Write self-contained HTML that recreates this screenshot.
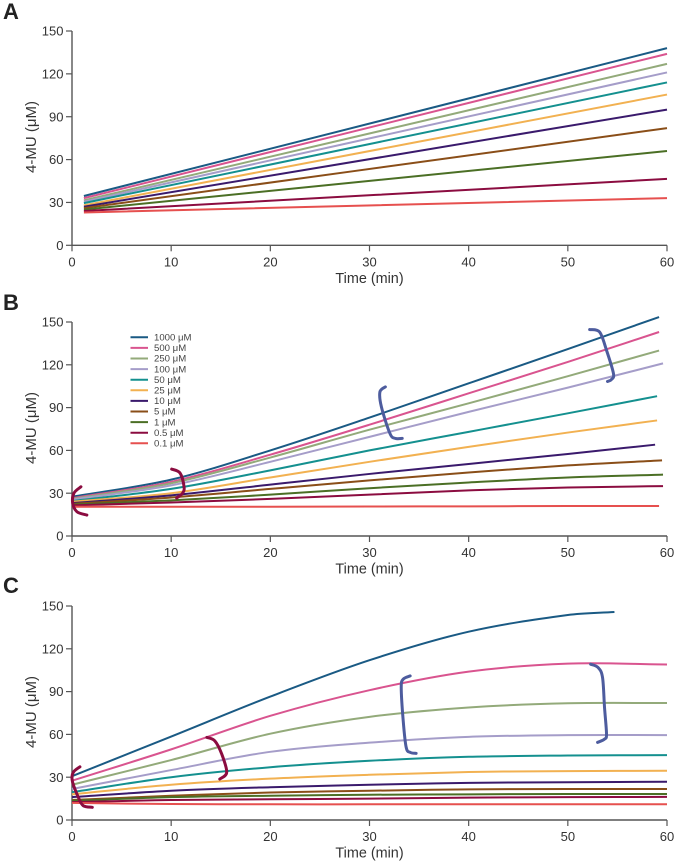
<!DOCTYPE html>
<html>
<head>
<meta charset="utf-8">
<title>4-MU time course</title>
<style>
html,body{margin:0;padding:0;background:#fff;}
svg{display:block;font-family:"Liberation Sans",sans-serif;}
</style>
</head>
<body>
<svg id="figure" width="677" height="864" viewBox="0 0 677 864" xmlns="http://www.w3.org/2000/svg"></svg>
<script>
// Shared categories and ticks
const seriesNames = ['1000 μM','500 μM','250 μM','100 μM','50 μM','25 μM','10 μM','5 μM','1 μM','0.5 μM','0.1 μM'];
const seriesColors = ['#1a5a84','#d9548f','#93aa7a','#a59dc9','#14908f','#f2b151','#3a1a6c','#8a4e18','#4b6f25','#8b0c40','#e6504f'];
const xTicks = [0,10,20,30,40,50,60];
const yTicks = [0,30,60,90,120,150];

// Panel A (straight progress curves)
const aTimes = [1.2,60];
const aStart = [34.5,33,31.5,30.5,29.5,28,27,26,25,24,23];
const aEnd = [138,134,127,121,114,105.5,95,82,66,46.5,33];

// Panel B
const bTimes = [0,10,20,30,40,50];
const bEnds = [59.2,59.2,59.2,59.6,59,59,58.8,59.5,59.6,59.6,59.2];
const b1000 = [27.5,39.5,60,83,107,131,153.5];
const b500 = [26.5,38,57,78,100,122,143];
const b250 = [26,37,55,74.5,93,112,130];
const b100 = [25.5,35.5,52,69.5,87,104,121];
const b50 = [24.5,33,46,60,73,86,98];
const b25 = [24,30,41,52,62.5,72.5,81];
const b10 = [23,28.5,36,43.5,50.5,57.5,64];
const b5 = [22.5,27,33,39,44.5,49.5,53];
const b1 = [22,25,29,33.5,37.5,41,43];
const b05 = [21.5,23.5,26,29,32,34,35];
const b01 = [20.5,20.5,20.5,20.7,20.8,21,21];

// Panel C
const cTimes = [0,10,20,30,40,50];
const cEnds = [54.7,60,60,60,60,60,60,60,60,60,60];
const c1000 = [30.7,58.5,86.5,112,132,143.7,145.8];
const c500 = [27.5,49.5,73,91,104,109.6,109];
const c250 = [24.7,42,60.5,72.3,78.9,81.8,82];
const c100 = [21.7,35,47.8,54.2,58.3,59.5,59.5];
const c50 = [19.5,30,37,41.5,44.3,45.2,45.5];
const c25 = [18,24.7,29,31.7,33.6,34.3,34.5];
const c10 = [16,20.5,23,24.7,26,26.5,26.8];
const c5 = [14,17,19.3,20.5,21.5,21.7,21.7];
const c1 = [13.5,16,17,17.7,18,18.2,18.2];
const c05 = [12.5,14,14.5,15,15.7,16,16.2];
const c01 = [12,11.2,11,11,11,11,11];

// Bracket annotations, [time, 4-MU]
const bBrackets = [
  {color:'#8b0c40',pts:[[.9,34.5],[.2,30.1],[.07,23.1],[.5,17],[1.5,14.7]]},
  {color:'#8b0c40',pts:[[10.05,46.9],[10.9,44.1],[11.3,34.5],[11.16,30.1],[10.55,26.6]]},
  {color:'#4d5c9e',pts:[[31.6,104.5],[31.05,101],[31.2,90.5],[32.06,71.9],[32.6,68.4],[33.3,68.4]]},
  {color:'#4d5c9e',pts:[[52.2,144.7],[53.2,143],[53.9,130.2],[54.6,113.9],[54.4,109.7],[54,108.3]]}
];
const cBrackets = [
  {color:'#8b0c40',pts:[[.8,37.3],[.13,33.4],[.03,27.5],[.64,15.9],[1.14,10],[2.05,8.9]]},
  {color:'#8b0c40',pts:[[13.6,57.9],[14.4,55.5],[15.1,46.2],[15.6,33.4],[14.9,28.7]]},
  {color:'#4d5c9e',pts:[[34.1,101],[33.4,98.7],[33.2,92.9],[33.4,69.5],[33.7,50.9],[34.1,47.4],[34.7,46.7]]},
  {color:'#4d5c9e',pts:[[52.3,109.2],[53.05,106.9],[53.5,99.9],[53.7,78.9],[53.9,60.2],[53.7,56.7],[53,54.4]]}
];

const svg = document.getElementById('figure');
const NS = 'http://www.w3.org/2000/svg';

function make(tag, attrs, parent){
  const el = document.createElementNS(NS, tag);
  for (const k in attrs) el.setAttribute(k, attrs[k]);
  parent.appendChild(el);
  return el;
}
function smooth(points){
  const n = points.length;
  const m = points.map((p,i)=>{
    const a = points[Math.max(i-1,0)], b = points[Math.min(i+1,n-1)];
    return [(b[0]-a[0])/2,(b[1]-a[1])/2];
  });
  let d = 'M'+points[0][0].toFixed(2)+' '+points[0][1].toFixed(2);
  for (let i=0;i<n-1;i++){
    const p=points[i], q=points[i+1];
    d += ' C'+(p[0]+m[i][0]/3).toFixed(2)+' '+(p[1]+m[i][1]/3).toFixed(2)+' '+
         (q[0]-m[i+1][0]/3).toFixed(2)+' '+(q[1]-m[i+1][1]/3).toFixed(2)+' '+
         q[0].toFixed(2)+' '+q[1].toFixed(2);
  }
  return d;
}
function curve(xs, ys, scaleX, scaleY){
  const n = xs.length;
  const d = [];
  for (let i=0;i<n;i++){
    const t = xs[i], v = ys[i];
    const slopeWindow = Math.abs(xs[Math.min(i+1,n-1)]-xs[Math.max(i-1,0)]);
    const s = (ys[Math.min(i+1,n-1)]-ys[Math.max(i-1,0)])/slopeWindow;
    d.push({t,v,s});
  }
  let out = 'M'+scaleX(d[0].t).toFixed(2)+' '+scaleY(d[0].v).toFixed(2);
  for (let i=0;i<n-1;i++){
    const a=d[i], b=d[i+1], h=(b.t-a.t)/3;
    out += ' C'+scaleX(a.t+h).toFixed(2)+' '+scaleY(a.v+a.s*h).toFixed(2)+' '+
           scaleX(b.t-h).toFixed(2)+' '+scaleY(b.v-b.s*h).toFixed(2)+' '+
           scaleX(b.t).toFixed(2)+' '+scaleY(b.v).toFixed(2);
  }
  return out;
}

function drawPanel(letter, letterY, yTop, yBottom){
  const key = letter.toLowerCase();
  const g = make('g', {}, svg);
  
  

  const scaleX = t => 72 + t*(595/60);
  const scaleY = v => yBottom - v*((yBottom-yTop)/150);

  const label = make('text', {x:3,y:letterY,'font-size':22,'font-weight':'bold',fill:'#222'}, g);
  label.textContent = letter;
  
  

  const yAxis = make('line', {x1:72,x2:72,y1:yTop,y2:yBottom,stroke:'#555','stroke-width':1.4}, g);
  
  

  const xAxis = make('line', {x1:71.4,x2:667,y1:yBottom,y2:yBottom,stroke:'#555','stroke-width':1.4}, g);
  
  

  yTicks.forEach(v=>{
    const tick = make('line', {x1:66,x2:72,y1:scaleY(v),y2:scaleY(v),stroke:'#555','stroke-width':1.2}, g);
    
    
    const tx = make('text', {x:63.5,y:scaleY(v)+4.6,'font-size':13,'text-anchor':'end',fill:'#333'}, g);
    tx.textContent = v;
    
    
  });
  xTicks.forEach(t=>{
    const tick = make('line', {x1:scaleX(t),x2:scaleX(t),y1:yBottom,y2:yBottom+6,stroke:'#555','stroke-width':1.2}, g);
    
    
    const tx = make('text', {x:scaleX(t),y:yBottom+21,'font-size':13,'text-anchor':'middle',fill:'#333'}, g);
    tx.textContent = t;
    
    
  });

  const xTitle = make('text', {x:369.5,y:yBottom+37.5,'font-size':14.4,'text-anchor':'middle',fill:'#333'}, g);
  xTitle.textContent = 'Time (min)';
  
  

  const yCenter = yTop + 106;
  const yTitle = make('text', {x:0,y:0,'font-size':15,'text-anchor':'middle',fill:'#333',transform:'translate(36 '+yCenter+') rotate(-90)'}, g);
  yTitle.textContent = '4-MU (μM)';
  
  

  return {g, scaleX, scaleY};
}

function drawLine(panel, xs, ys, i){
  const p = make('path', {d:curve(xs, ys, panel.scaleX, panel.scaleY),fill:'none',stroke:seriesColors[i],'stroke-width':2}, panel.g);
  
  
}
function drawBrackets(panel, list){
  list.forEach(b=>{
    const pts = b.pts.map(q=>[panel.scaleX(q[0]),panel.scaleY(q[1])]);
    const p = make('path', {d:smooth(pts),fill:'none',stroke:b.color,'stroke-width':3,'stroke-linecap':'round'}, panel.g);
    
    
  });
}

// Panel A
const pa = drawPanel('A', 19, 31, 245.3);
seriesNames.forEach((_,i)=>{
  drawLine(pa, aTimes, [aStart[i], aEnd[i]], i);
});

// Panel B
const pb = drawPanel('B', 310, 322, 536);
[b1000,b500,b250,b100,b50,b25,b10,b5,b1,b05,b01].forEach((ys,i)=>{
  drawLine(pb, bTimes.concat([bEnds[i]]), ys, i);
});
drawBrackets(pb, bBrackets);

// Legend
const legend = make('g', {}, pb.g);


seriesNames.forEach((name,i)=>{
  const ly = 337.3 + i*10.6;
  const sw = make('line', {x1:130.5,x2:148,y1:ly,y2:ly,stroke:seriesColors[i],'stroke-width':2}, legend);
  
  
  const tx = make('text', {x:154,y:ly+3.2,'font-size':9.6,fill:'#444'}, legend);
  tx.textContent = name;
  
  
});

// Panel C
const pc = drawPanel('C', 593, 606, 820);
[c1000,c500,c250,c100,c50,c25,c10,c5,c1,c05,c01].forEach((ys,i)=>{
  drawLine(pc, cTimes.concat([cEnds[i]]), ys, i);
});
drawBrackets(pc, cBrackets);
</script>
</body>
</html>
